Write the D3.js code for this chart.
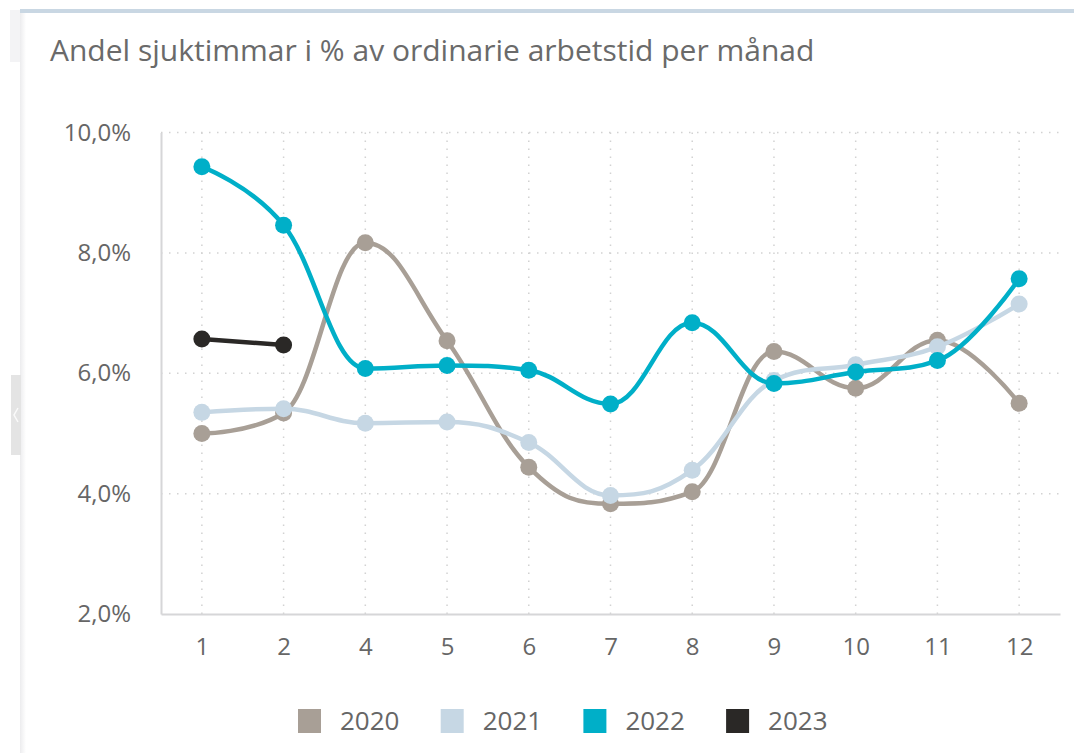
<!DOCTYPE html>
<html>
<head>
<meta charset="utf-8">
<script src="https://cdn.jsdelivr.net/npm/d3@7"></script>
<style>
  html, body { margin: 0; padding: 0; background: #fff; }
  svg { display: block; font-family: "Open Sans", "Noto Sans", sans-serif; }
</style>
</head>
<body>
<svg id="chart" width="1074" height="753"></svg>
<script>
const title = "Andel sjuktimmar i % av ordinarie arbetstid per månad";
const categories = ["1", "2", "4", "5", "6", "7", "8", "9", "10", "11", "12"];
const s2020 = [5.00, 5.34, 8.17, 6.54, 4.44, 3.83, 4.03, 6.36, 5.75, 6.55, 5.50];
const s2021 = [5.35, 5.41, 5.17, 5.19, 4.85, 3.97, 4.39, 5.88, 6.14, 6.44, 7.15];
const s2022 = [9.43, 8.46, 6.08, 6.13, 6.05, 5.49, 6.84, 5.83, 6.02, 6.21, 7.57];
const s2023 = [6.57, 6.47];
const seriesNames = ["2020", "2021", "2022", "2023"];
const seriesValues = [s2020, s2021, s2022, s2023];
const seriesColors = ["#a89f96", "#c6d7e4", "#00afc8", "#2a2826"];
const yTicks = [2, 4, 6, 8, 10];

const svg = d3.select("#chart");

// page decorations
svg.append("rect").attr("x", 10).attr("y", 10).attr("width", 10).attr("height", 52).attr("fill", "#f3f3f5");
const grad = svg.append("defs").append("linearGradient").attr("id", "sh").attr("x1", 0).attr("x2", 1);
grad.append("stop").attr("offset", 0).attr("stop-color", "#ececee");
grad.append("stop").attr("offset", 1).attr("stop-color", "#ffffff");
svg.append("rect").attr("x", 20).attr("y", 10).attr("width", 6).attr("height", 743).attr("fill", "url(#sh)");
svg.append("rect").attr("x", 11).attr("y", 375).attr("width", 10).attr("height", 80).attr("fill", "#e4e4e4");
svg.append("path").attr("d", "M18,408 L14,415 L18,422").attr("fill", "none").attr("stroke", "#fafafa").attr("stroke-width", 1.5);
svg.append("rect").attr("x", 20).attr("y", 9).attr("width", 1054).attr("height", 4).attr("fill", "#c9d7e3");

// title
svg.append("text").attr("x", 50).attr("y", 61).attr("font-size", 30).attr("fill", "#6a6a6a").text(title);

const x = d3.scalePoint().domain(categories).range([161, 1060]).padding(0.5);
const y = d3.scaleLinear().domain([2, 10]).range([614, 132.5]);

const grid = svg.append("g");
grid.selectAll("line.h").data(yTicks.filter(d => d > 2)).join("line")
  .attr("x1", 161).attr("x2", 1060).attr("y1", d => y(d)).attr("y2", d => y(d))
  .attr("stroke", "#d2d2d2").attr("stroke-width", 1.5).attr("stroke-dasharray", "1.5,6.5");
grid.selectAll("line.v").data(categories).join("line")
  .attr("x1", d => x(d)).attr("x2", d => x(d)).attr("y1", y(10)).attr("y2", 614)
  .attr("stroke", "#d2d2d2").attr("stroke-width", 1.5).attr("stroke-dasharray", "1.5,6.5");

// axes
const yAxis = d3.axisLeft(y).tickValues(yTicks).tickSize(0).tickPadding(30)
  .tickFormat(d => d3.format(".1f")(d).replace(".", ",") + "%");
const gy = svg.append("g").attr("transform", "translate(161,0)").call(yAxis);
gy.select(".domain").attr("stroke", "#d6d6d8").attr("stroke-width", 2);
gy.selectAll("text").attr("font-size", 24).attr("fill", "#666").attr("font-family", "Open Sans");

const xAxis = d3.axisBottom(x).tickSize(0).tickPadding(24);
const gx = svg.append("g").attr("transform", "translate(0,614)").call(xAxis);
gx.select(".domain").attr("stroke", "#d6d6d8").attr("stroke-width", 2);
gx.selectAll("text").attr("font-size", 24).attr("fill", "#666").attr("font-family", "Open Sans");

// Highcharts-like spline
function splinePath(pts) {
  const sm = 1.5, den = sm + 1;
  const cp = pts.map(() => ({}));
  for (let i = 1; i < pts.length - 1; i++) {
    const [px, py] = pts[i], [lx, ly] = pts[i - 1], [nx, ny] = pts[i + 1];
    let lcx = (sm * px + lx) / den, lcy = (sm * py + ly) / den;
    let rcx = (sm * px + nx) / den, rcy = (sm * py + ny) / den;
    if (rcx !== lcx) {
      const corr = ((rcy - lcy) * (rcx - px)) / (rcx - lcx) + py - rcy;
      lcy += corr; rcy += corr;
    }
    if (lcy > ly && lcy > py) { lcy = Math.max(ly, py); rcy = 2 * py - lcy; }
    else if (lcy < ly && lcy < py) { lcy = Math.min(ly, py); rcy = 2 * py - lcy; }
    if (rcy > ny && rcy > py) { rcy = Math.max(ny, py); lcy = 2 * py - rcy; }
    else if (rcy < ny && rcy < py) { rcy = Math.min(ny, py); lcy = 2 * py - rcy; }
    cp[i] = { lcx, lcy, rcx, rcy };
  }
  let d = `M${pts[0][0]},${pts[0][1]}`;
  for (let i = 1; i < pts.length; i++) {
    const a = cp[i - 1], b = cp[i];
    const c1x = a.rcx !== undefined ? a.rcx : pts[i - 1][0];
    const c1y = a.rcy !== undefined ? a.rcy : pts[i - 1][1];
    const c2x = b.lcx !== undefined ? b.lcx : pts[i][0];
    const c2y = b.lcy !== undefined ? b.lcy : pts[i][1];
    d += `C${c1x},${c1y} ${c2x},${c2y} ${pts[i][0]},${pts[i][1]}`;
  }
  return d;
}

const plot = svg.append("g");
seriesValues.forEach((vals, si) => {
  const pts = vals.map((v, i) => [x(categories[i]), y(v)]);
  const g = plot.append("g");
  g.append("path").attr("d", splinePath(pts)).attr("fill", "none")
    .attr("stroke", seriesColors[si]).attr("stroke-width", 4.5)
    .attr("stroke-linejoin", "round").attr("stroke-linecap", "round");
  g.selectAll("circle").data(vals).join("circle")
    .attr("cx", (v, i) => x(categories[i])).attr("cy", v => y(v))
    .attr("r", 8.5).attr("fill", seriesColors[si]);
});

// legend
const legend = svg.append("g");
seriesNames.forEach((n, i) => {
  const lx = 298 + i * 142.7;
  legend.append("rect").attr("x", lx).attr("y", 709).attr("width", 23).attr("height", 24)
    .attr("fill", seriesColors[i]);
  legend.append("text").attr("x", lx + 42).attr("y", 730).attr("font-size", 26)
    .attr("fill", "#666").text(n);
});
</script>
</body>
</html>
